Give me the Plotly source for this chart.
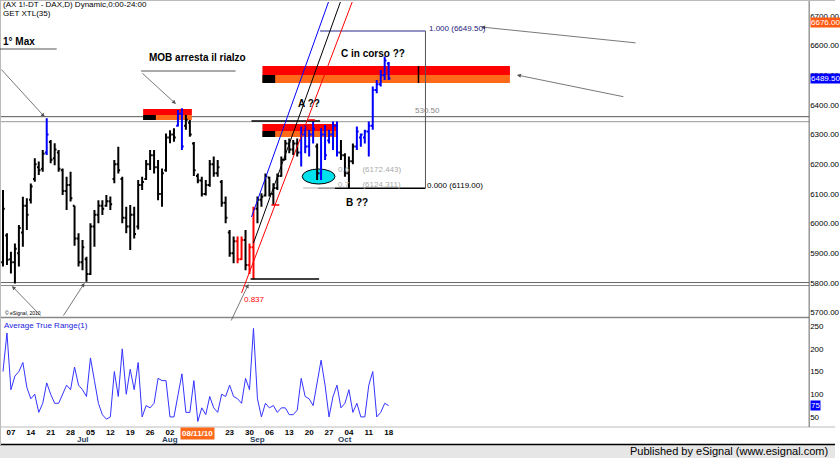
import plotly.graph_objects as go

W, H = 840, 458

# ---------------- data (trading-day index 0..97 = 2010-06-03 .. 2010-10-18) ----------------
opens = [5870, 5960, 5880, 5870, 5900, 5970, 6060, 6080, 6150, 6190,
         6185, 6240, 6275, 6220, 6240, 6180, 6110, 6130, 6060, 5950,
         5870, 5880, 5830, 5990, 6030, 6060, 6060, 6075, 6150, 6200,
         6150, 6020, 5990, 6030, 5990, 6130, 6150, 6200, 6230, 6190,
         6100, 6180, 6290, 6300, 6330, 6370, 6330, 6340, 6270, 6160,
         6145, 6100, 6130, 6200, 6170, 6140, 6070, 5970, 5900, 5940,
         5880, 5945, 5860, 5920, 6050, 6080, 6095, 6155, 6100, 6120,
         6160, 6215, 6270, 6250, 6270, 6240, 6300, 6260, 6300, 6260,
         6170, 6300, 6280, 6300, 6330, 6240, 6230, 6170, 6210, 6260,
         6290, 6290, 6310, 6330, 6450, 6470, 6500, 6540]
highs = [6113, 5967, 5905, 5933, 5995, 6090, 6085, 6135, 6220, 6209,
         6248, 6355, 6282, 6271, 6248, 6186, 6158, 6175, 6060, 5967,
         5945, 5888, 6001, 6046, 6079, 6079, 6096, 6091, 6214, 6259,
         6158, 6057, 6063, 6057, 6147, 6158, 6214, 6248, 6248, 6214,
         6186, 6304, 6315, 6321, 6383, 6389, 6366, 6349, 6275, 6169,
         6158, 6147, 6214, 6226, 6214, 6147, 6091, 5978, 5956, 5956,
         5956, 5978, 5933, 6057, 6091, 6102, 6169, 6158, 6136, 6169,
         6226, 6282, 6287, 6282, 6287, 6327, 6332, 6316, 6344, 6270,
         6321, 6332, 6316, 6344, 6344, 6282, 6237, 6226, 6270, 6327,
         6304, 6316, 6344, 6462, 6484, 6518, 6563, 6545]
lows = [5855, 5860, 5832, 5798, 5855, 5922, 5978, 6068, 6141, 6164,
        6175, 6231, 6203, 6197, 6175, 6096, 6046, 6074, 5925, 5855,
        5843, 5804, 5827, 5922, 6001, 6029, 6057, 6046, 6136, 6169,
        6001, 5967, 5911, 5950, 5980, 6113, 6147, 6181, 6169, 6079,
        6057, 6175, 6271, 6276, 6327, 6248, 6316, 6293, 6160, 6136,
        6091, 6095, 6124, 6158, 6158, 6057, 6001, 5888, 5866, 5866,
        5877, 5843, 5830, 5812, 6001, 6057, 6091, 6091, 6063, 6113,
        6158, 6214, 6237, 6231, 6226, 6192, 6237, 6226, 6270, 6147,
        6147, 6214, 6270, 6248, 6226, 6214, 6158, 6119, 6200, 6248,
        6259, 6270, 6226, 6316, 6439, 6462, 6484, 6484]
closes = [6050, 5878, 5870, 5915, 5985, 6060, 6030, 6125, 6200, 6180,
          6235, 6300, 6215, 6250, 6185, 6110, 6130, 6085, 5950, 5870,
          5920, 5830, 5990, 6030, 6060, 6050, 6075, 6065, 6200, 6180,
          6020, 5990, 6030, 5965, 6130, 6140, 6200, 6230, 6190, 6100,
          6170, 6290, 6300, 6290, 6370, 6260, 6350, 6300, 6180, 6145,
          6100, 6130, 6200, 6170, 6190, 6070, 6020, 5900, 5940, 5880,
          5945, 5860, 5920, 6050, 6080, 6090, 6160, 6100, 6120, 6160,
          6215, 6270, 6250, 6270, 6240, 6300, 6260, 6300, 6320, 6170,
          6300, 6230, 6300, 6330, 6240, 6230, 6170, 6210, 6260, 6310,
          6300, 6310, 6330, 6450, 6470, 6500, 6550, 6489.5]
# GET XTL(35) state per bar: n = neutral, u = up, d = down
xtl_state = list("nnnnnnnnnn" "nunnnnnnnn" "nnnnnnnnnn" "nnnnnnnnnn"
                 "nnnnuunnnn" "nnnnnnnnnd" "dnddnnnnnn" "nnnnnuuuun"
                 "uuuuunnnnu" "uuuuuuuu")
# Average True Range(1)
atr = [150, 235, 110, 140, 150, 170, 115, 90, 100, 60,
       80, 125, 100, 80, 80, 100, 120, 110, 160, 120,
       110, 95, 180, 130, 80, 55, 45, 50, 150, 95,
       200, 100, 155, 110, 170, 50, 75, 70, 80, 135,
       130, 130, 50, 50, 95, 145, 60, 60, 130, 40,
       70, 55, 95, 70, 60, 100, 95, 120, 95, 90,
       80, 135, 110, 245, 90, 50, 80, 70, 75, 60,
       70, 70, 55, 55, 65, 135, 95, 90, 75, 130,
       175, 120, 50, 95, 120, 70, 80, 110, 60, 80,
       50, 50, 120, 150, 50, 60, 80, 75]

week_tick_idx = [2, 7, 12, 17, 22, 27, 32, 37, 42, 47, 52, 57, 62, 67, 72, 77, 82, 87, 92, 97]
week_tick_lbl = ['07', '14', '21', '28', '05', '12', '19', '26', '02', '09',
                 '16', '23', '30', '06', '13', '20', '27', '04', '11', '18']
month_idx = [20, 42, 64, 86]
month_lbl = ['Jul', 'Aug', 'Sep', 'Oct']
price_ticks = [5700, 5800, 5900, 6000, 6100, 6200, 6300, 6400, 6500, 6600, 6700]
atr_ticks = [50, 100, 150, 200, 250]

last_high_mark = 6676.00
last_close = 6489.50
last_atr = 75
fib_low, fib_high = 6119.00, 6649.50
fib_levels = [(0.618, 6172.443), (0.7, 6124.311)]

# ---------------- geometry helpers (pixel <-> data) ----------------
X_RANGE = [-0.5, 202.75]
Y_RANGE = [5685, 6747]
A_RANGE = [30, 268]


def xi(px):
    return (px - 3) / 4.0


def pr(py):
    return 6700 - (py - 16) / 0.2965


def PX(px):
    return px / W


def PY(py):
    return 1 - py / H


FONT = "Liberation Sans, Arial, sans-serif"
NARROW = "Liberation Sans Narrow, Arial Narrow, Liberation Sans, Arial, sans-serif"

fig = go.Figure()

state_color = {'n': '#000000', 'u': '#0000FF', 'd': '#FF0000'}
for st, col in state_color.items():
    idx = [i for i, s in enumerate(xtl_state) if s == st]
    fig.add_trace(go.Ohlc(
        x=idx,
        open=[opens[i] for i in idx], high=[highs[i] for i in idx],
        low=[lows[i] for i in idx], close=[closes[i] for i in idx],
        increasing=dict(line=dict(color=col, width=2)),
        decreasing=dict(line=dict(color=col, width=2)),
        tickwidth=0.45, xaxis='x', yaxis='y', showlegend=False, hoverinfo='skip'))

fig.add_trace(go.Scatter(x=list(range(len(atr))), y=atr, mode='lines',
                         line=dict(color='#3333FF', width=1),
                         xaxis='x2', yaxis='y2', showlegend=False, hoverinfo='skip'))

shapes = []


def hline_paper(py, color, width=1):
    shapes.append(dict(type='line', xref='paper', yref='paper', x0=0, x1=1,
                       y0=PY(py), y1=PY(py), line=dict(color=color, width=width)))


def dline(x0, y0, x1, y1, color, width=1, dash='solid', layer='above'):
    shapes.append(dict(type='line', xref='x', yref='y', x0=x0, y0=y0, x1=x1, y1=y1,
                       line=dict(color=color, width=width, dash=dash), layer=layer))


def drect(x0, y0, x1, y1, fill, layer='below'):
    shapes.append(dict(type='rect', xref='x', yref='y', x0=x0, y0=y0, x1=x1, y1=y1,
                       fillcolor=fill, line=dict(width=0), layer=layer))


# MOB zones (red upper half, orange lower half, black block at left)
def mob(xa, xb, top, mid, bot):
    drect(xa, mid, xb, top, '#FF0000')
    drect(xa, bot, xb, mid, '#FF6A1A')
    drect(xa, bot, xa + 3.2, mid, '#000000')


mob(xi(144), xi(193), pr(109), pr(115), pr(120))
mob(xi(264), xi(340), pr(124), pr(131), pr(137))
mob(xi(264), xi(513), pr(66), pr(75), pr(83))
dline(xi(421), pr(66), xi(421), pr(83), '#000000', 1.5)

# resistance / support double lines (full width)
for p, c in [(pr(116.7), '#555555'), (pr(121.7), '#999999'),
             (pr(282.5), '#666666'), (pr(285.5), '#888888')]:
    shapes.append(dict(type='line', xref='paper', yref='y', x0=PX(0), x1=PX(814), y0=p, y1=p,
                       line=dict(color=c, width=1), layer='below'))

# A level and low level lines
dline(xi(253), pr(121), xi(322), pr(121), '#000000', 1.5)
dline(xi(252), pr(279), xi(321), pr(279), '#000000', 1.5)
# red markers
dline(xi(310), pr(120), xi(317), pr(120), '#FF0000', 1.5)
dline(xi(273), pr(205), xi(281), pr(205), '#FF0000', 1.5)

# Fibonacci tool
dline(xi(320), fib_low, xi(428), fib_low, '#000000', 1.5)
dline(xi(322), fib_high, xi(428), fib_high, '#6E6EB4', 1.5)
dline(xi(428), fib_low, xi(428), fib_high, '#555555', 1)
dline(xi(305), pr(188), xi(337), pr(188), '#CCCCCC', 1.5)

# ellipse
shapes.append(dict(type='circle', xref='x', yref='y', x0=xi(304), x1=xi(337), y0=pr(184), y1=pr(169),
                   fillcolor='#00E1EE', line=dict(color='#000000', width=1), layer='below'))

# channel lines
dline(xi(253), pr(217), xi(333), pr(-5), '#0000FF', 1)
dline(xi(255), pr(243), xi(345), pr(-5), '#000000', 1)
dline(xi(243), pr(293), xi(357), pr(-5), '#FF0000', 1)

# frame
shapes.append(dict(type='rect', xref='paper', yref='paper', x0=PX(0), x1=PX(840), y0=PY(445), y1=PY(458),
                   fillcolor='#E6E6E6', line=dict(width=0)))
hline_paper(444.5, '#000000', 1.5)
hline_paper(427, '#BBBBBB', 1)
shapes.append(dict(type='line', xref='paper', yref='paper', x0=0, x1=PX(814), y0=PY(317.5), y1=PY(317.5),
                   line=dict(color='#888888', width=1.5)))
shapes.append(dict(type='line', xref='paper', yref='paper', x0=PX(814), x1=PX(814), y0=PY(1), y1=PY(427),
                   line=dict(color='#666666', width=1)))
shapes.append(dict(type='line', xref='paper', yref='paper', x0=PX(0.5), x1=PX(0.5), y0=PY(0), y1=PY(445),
                   line=dict(color='#BBBBBB', width=1)))
hline_paper(0.5, '#BBBBBB', 1)

ann = []


def text(px, py, s, size=8, color='#000000', bold=False, anchor='left', family=FONT, bg=None, valign='middle'):
    d = dict(x=PX(px), y=PY(py), xref='paper', yref='paper', text=s, showarrow=False,
             xanchor=anchor, yanchor=valign,
             font=dict(size=size, color=color, family=family, weight='bold' if bold else 'normal'))
    if bg:
        d['bgcolor'] = bg
        d['borderpad'] = 0
    ann.append(d)


def arrow(tx, ty, sx, sy, color='#555555'):
    ann.append(dict(x=PX(tx), y=PY(ty), xref='paper', yref='paper', ax=sx - tx, ay=sy - ty,
                    axref='pixel', ayref='pixel', text='', showarrow=True, arrowhead=2,
                    arrowsize=1, arrowwidth=0.8, arrowcolor=color))


text(1, 5, "(AX 1!-DT - DAX,D) Dynamic,0:00-24:00", size=8, family=NARROW)
text(1, 13, "GET XTL(35)", size=8, family=NARROW)
text(1, 41, "1° Max", size=10, bold=True)
shapes.append(dict(type='line', xref='paper', yref='paper', x0=0, x1=PX(57), y0=PY(49), y1=PY(49),
                   line=dict(color='#555555', width=1)))
arrow(45, 117, 0, 68)
text(148, 58, "MOB arresta il rialzo", size=10, bold=True)
shapes.append(dict(type='line', xref='paper', yref='paper', x0=PX(142), x1=PX(237), y0=PY(71), y1=PY(71),
                   line=dict(color='#555555', width=1)))
arrow(177, 104, 142, 72)
text(311, 104, "A ??", size=10, bold=True, anchor='center')
text(359, 202, "B ??", size=10, bold=True, anchor='center')
text(375, 53, "C in corso ??", size=10, bold=True, anchor='center')
arrow(484, 27, 640, 43)
arrow(520, 75, 628, 97)
text(430, 28, "1.000 (%.2f)" % fib_high, size=8, color='#22227A', family=NARROW)
text(428, 185, "0.000 (%.2f)" % fib_low, size=8, family=NARROW)
text(430, 111, "%.2f" % (fib_high - fib_low), size=8, color='#888888', family=NARROW, anchor='center')
text(338, 169, "0.6      (%.3f)" % fib_levels[0][1], size=8, color='#AAAAAA', family=NARROW)
text(338, 184, "0.7      (%.3f)" % fib_levels[1][1], size=8, color='#AAAAAA', family=NARROW)
text(243, 299, "0.837", size=8, color='#FF0000', family=NARROW)
text(3, 313, "© eSignal, 2010", size=5, family=NARROW)
arrow(12, 286, 42, 317)
arrow(85, 283, 63, 317)
arrow(250, 284, 232, 322)
text(2, 325, "Average True Range(1)", size=8, color='#2222DD', family=NARROW)

# axis highlight labels
text(815, 22, "%.2f" % last_high_mark, size=8, color='#FFFFFF', family=NARROW, bg='#FF5A14')
text(815, 78, "%.2f" % last_close, size=8, color='#FFFFFF', family=NARROW, bg='#0000FF')
text(815, 405, "%d" % last_atr, size=8, color='#FFFFFF', family=NARROW, bg='#0000FF')

# month labels and highlighted date
for i, m in zip(month_idx, month_lbl):
    ann.append(dict(x=i, y=PY(439), xref='x2', yref='paper', text=m, showarrow=False,
                    font=dict(size=8, family=NARROW, weight='bold'), xanchor='center', yanchor='middle'))
ann.append(dict(x=49, y=PY(433), xref='x2', yref='paper', text="08/11/10", showarrow=False,
                font=dict(size=8, family=NARROW, color='#FFFFFF', weight='bold'), bgcolor='#FF6A1A',
                xanchor='center', yanchor='middle', borderpad=1))

text(835, 451, "Published by eSignal (www.esignal.com)", size=11, anchor='right')

axfont = dict(size=8, family=NARROW, color='#000000')
fig.update_layout(
    width=W, height=H, margin=dict(l=0, r=0, t=0, b=0),
    paper_bgcolor='#FFFFFF', plot_bgcolor='#FFFFFF', showlegend=False,
    xaxis=dict(domain=[PX(1), PX(814)], range=X_RANGE, showticklabels=False, showgrid=False,
               zeroline=False, rangeslider=dict(visible=False), anchor='y'),
    yaxis=dict(domain=[PY(317), PY(2)], range=Y_RANGE, side='right', anchor='x',
               tickvals=price_ticks, ticktext=['%.2f' % v for v in price_ticks],
               showgrid=False, zeroline=False, ticks='', tickfont=axfont),
    xaxis2=dict(domain=[PX(1), PX(814)], matches='x', range=X_RANGE, anchor='y2',
                tickvals=week_tick_idx, ticktext=week_tick_lbl, showgrid=False, zeroline=False,
                ticks='', tickfont=dict(size=8, family=NARROW, color='#000000', weight='bold')),
    yaxis2=dict(domain=[PY(426), PY(318)], range=A_RANGE, side='right', anchor='x2',
                tickvals=atr_ticks, showgrid=False, zeroline=False, ticks='', tickfont=axfont),
    shapes=shapes, annotations=ann,
)

fig.write_html("out.html", config={'staticPlot': True},
               post_script="document.body.style.margin='0';document.body.style.overflow='hidden';")
